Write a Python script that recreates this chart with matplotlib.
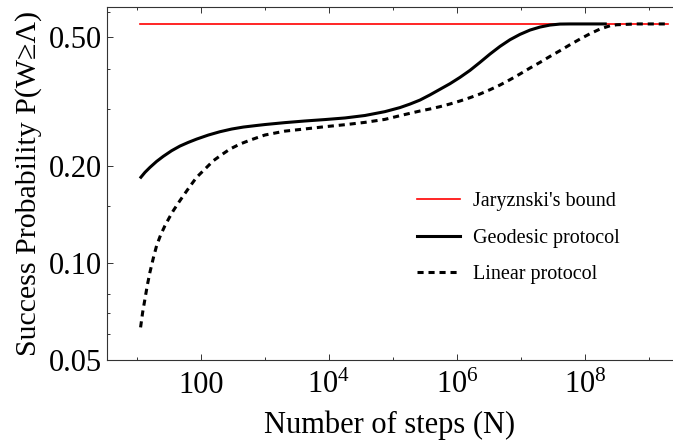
import numpy as np
import matplotlib
matplotlib.use("Agg")
import matplotlib.pyplot as plt
from matplotlib.ticker import FixedLocator, NullFormatter, FixedFormatter
from matplotlib.lines import Line2D

plt.rcParams['font.family'] = ['Liberation Serif', 'DejaVu Serif']
plt.rcParams['mathtext.fontset'] = 'custom'
plt.rcParams['mathtext.rm'] = 'Liberation Serif'
plt.rcParams['mathtext.it'] = 'Liberation Serif:italic'

# ---- data ----
bound_value = 0.55
bound_logN = [1.05, 9.30]

geo_logN = [1.047, 1.125, 1.203, 1.307, 1.411, 1.542, 1.672, 1.802, 1.932, 2.115,
            2.297, 2.479, 2.661, 2.870, 3.0, 3.3125, 3.625, 3.9375, 4.25, 4.5625,
            4.875, 5.109, 5.266, 5.422, 5.578, 5.734, 5.891, 6.047, 6.203, 6.359,
            6.516, 6.672, 6.828, 6.984, 7.141, 7.297, 7.453, 7.609, 7.766, 8.34]
geo_P = [0.1827, 0.1907, 0.1976, 0.2062, 0.2138, 0.2226, 0.2301, 0.2362, 0.2418, 0.2489,
         0.2549, 0.2598, 0.2635, 0.2665, 0.2683, 0.2720, 0.2752, 0.2780, 0.2812, 0.2862,
         0.2942, 0.3028, 0.3105, 0.3195, 0.3315, 0.3450, 0.3591, 0.3757, 0.3949, 0.4181,
         0.4437, 0.4686, 0.4914, 0.5105, 0.5265, 0.5379, 0.5456, 0.5495, 0.5500, 0.5500]

lin_logN = [1.057, 1.089, 1.125, 1.161, 1.203, 1.255, 1.307, 1.370, 1.438, 1.505,
            1.568, 1.646, 1.724, 1.828, 1.932, 2.063, 2.193, 2.323, 2.453, 2.609,
            2.766, 2.922, 3.0, 3.3125, 3.625, 3.9375, 4.25, 4.5625, 4.875, 5.109,
            5.266, 5.422, 5.578, 5.734, 5.891, 6.047, 6.203, 6.359, 6.516, 6.672,
            6.828, 6.984, 7.141, 7.297, 7.453, 7.609, 7.766, 7.922, 8.078, 8.234,
            8.391, 8.495, 8.8, 9.30]
lin_P = [0.0631, 0.0702, 0.0772, 0.0850, 0.0935, 0.1033, 0.1130, 0.1220, 0.1304, 0.1380,
         0.1451, 0.1532, 0.1614, 0.1726, 0.1841, 0.1953, 0.2072, 0.2163, 0.2252, 0.2334,
         0.2400, 0.2460, 0.2490, 0.2560, 0.2600, 0.2642, 0.2680, 0.2725, 0.2784, 0.2858,
         0.2907, 0.2955, 0.2998, 0.3048, 0.3107, 0.3174, 0.3250, 0.3336, 0.3440, 0.3557,
         0.3695, 0.3848, 0.4016, 0.4181, 0.4363, 0.4544, 0.4743, 0.4938, 0.5129, 0.5303,
         0.5429, 0.5468, 0.5500, 0.5500]

x_major = [1e2, 1e4, 1e6, 1e8]
x_major_labels = ['100', r'$\mathregular{10^{4}}$', r'$\mathregular{10^{6}}$', r'$\mathregular{10^{8}}$']
x_minor = [1e1, 1e3, 1e5, 1e7, 1e9]
y_major = [0.05, 0.10, 0.20, 0.50]
y_major_labels = ['0.05', '0.10', '0.20', '0.50']
y_minor = [0.06, 0.07, 0.08, 0.15, 0.3, 0.4, 0.6]

labels = ["Jaryznski's bound", "Geodesic protocol", "Linear protocol"]

W, H = 673, 447
fig = plt.figure(figsize=(W / 100, H / 100), dpi=100)
ax = fig.add_axes([106.7 / W, (H - 360) / H, 1 - 106.7 / W, (360 - 6.7) / H])

dot_style = (0, (2.0, 1.6))
ax.plot(10 ** np.array(bound_logN), [bound_value] * len(bound_logN), color='#ff0000', lw=1.2)
ax.plot(10 ** np.array(geo_logN), geo_P, color='black', lw=2.2, solid_capstyle='butt')
ax.plot(10 ** np.array(lin_logN), lin_P, color='black', lw=2.2, linestyle=dot_style)

ax.set_xscale('log')
ax.set_yscale('log')
ax.set_xlim(3.37, 2.37e9)
ax.set_ylim(0.05, 0.622)

ax.xaxis.set_major_locator(FixedLocator(x_major))
ax.xaxis.set_major_formatter(FixedFormatter(x_major_labels))
ax.xaxis.set_minor_locator(FixedLocator(x_minor))
ax.xaxis.set_minor_formatter(NullFormatter())
ax.yaxis.set_major_locator(FixedLocator(y_major))
ax.yaxis.set_major_formatter(FixedFormatter(y_major_labels))
ax.yaxis.set_minor_locator(FixedLocator(y_minor))
ax.yaxis.set_minor_formatter(NullFormatter())

spine_c = '#333333'
for s in ['left', 'bottom', 'top']:
    ax.spines[s].set_color(spine_c)
    ax.spines[s].set_linewidth(0.8)
ax.spines['right'].set_visible(False)

ax.tick_params(which='both', direction='in', top=True, right=False, color=spine_c, width=0.7)
ax.tick_params(which='major', length=4.5)
ax.tick_params(which='minor', length=2.3)
ax.tick_params(axis='both', which='major', labelsize=22)
ax.tick_params(axis='x', which='major', pad=23.8)
ax.tick_params(axis='y', which='major', pad=3.5)
for t in ax.get_xticklabels():
    t.set_verticalalignment('baseline')

ax.set_xlabel('Number of steps (N)', fontsize=22, va='baseline')
ax.xaxis.set_label_coords(0.5, (360 - 433) / (360 - 6.7))
ax.set_ylabel('Success Probability P(W≥Λ)', fontsize=21.5)
ax.yaxis.set_label_coords((42 - 106.7) / (W - 106.7), 0.5)

handles = [Line2D([], [], color='#ff0000', lw=1.2),
           Line2D([], [], color='black', lw=2.2),
           Line2D([], [], color='black', lw=2.2, linestyle=dot_style)]
ax.legend(handles, labels, loc='center left', bbox_to_anchor=(417 / W, 1 - 238 / H),
          bbox_transform=fig.transFigure, frameon=False, fontsize=14.5,
          borderpad=0, borderaxespad=0, handlelength=2.15, handletextpad=0.65,
          labelspacing=0.86)

fig.savefig('out.png', dpi=100)
